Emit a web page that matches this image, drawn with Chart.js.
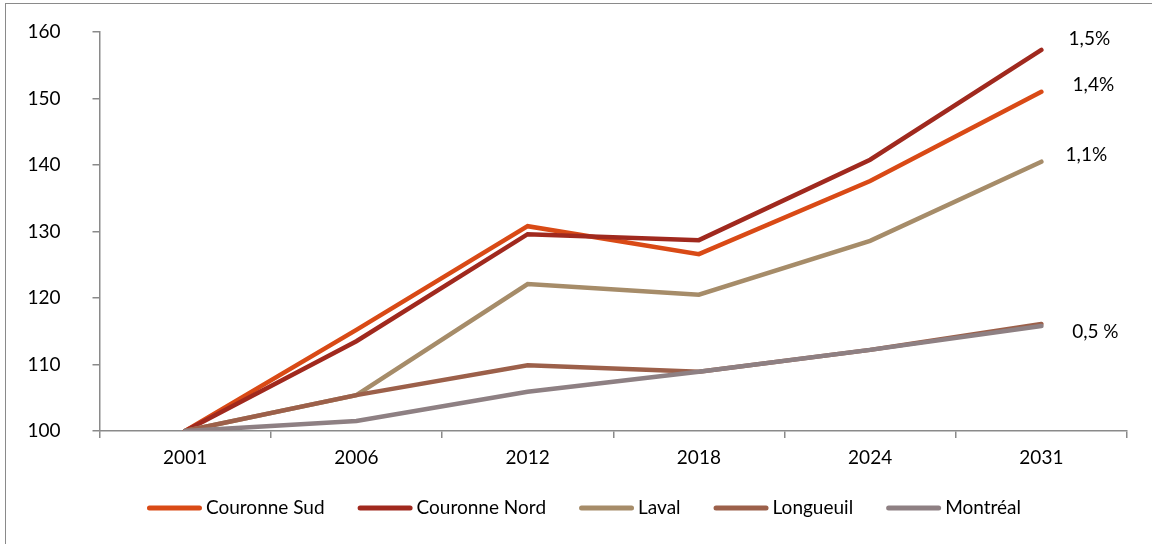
<!DOCTYPE html>
<html>
<head>
<meta charset="utf-8">
<script src="https://cdn.jsdelivr.net/npm/chart.js@4.4.1/dist/chart.umd.min.js"></script>
<style>
  html, body { margin: 0; padding: 0; background: #fff; }
  #wrap { position: relative; width: 1152px; height: 544px; overflow: hidden; }
  #frame { position: absolute; left: 5px; top: 3px; width: 1200px; height: 600px;
           border-left: 1.5px solid #8a8a8a; border-top: 1.5px solid #8a8a8a; box-sizing: border-box; }
  canvas { position: absolute; left: 0; top: 0; }
</style>
</head>
<body>
<div id="wrap">
  <div id="frame"></div>
  <canvas id="c" width="1152" height="544"></canvas>
</div>
<script>
const years = ['2001', '2006', '2012', '2018', '2024', '2031'];
const seriesNames = ['Couronne Sud', 'Couronne Nord', 'Laval', 'Longueuil', 'Montréal'];
const couronneSud  = [100, 115.2, 130.8, 126.6, 137.6, 151.0];
const couronneNord = [100, 113.5, 129.6, 128.7, 140.8, 157.3];
const laval        = [100, 105.4, 122.1, 120.5, 128.6, 140.5];
const longueuil    = [100, 105.4, 109.9, 108.9, 112.2, 116.1];
const montreal     = [100, 101.5, 105.9, 108.9, 112.2, 115.8];
const endLabels    = ['1,4%', '1,5%', '1,1%', '', '0,5 %'];
const colors = ['#D94A16', '#A0291E', '#A68C69', '#9C604A', '#8E8083'];
const yTicks = [100, 110, 120, 130, 140, 150, 160];

const values = [couronneSud, couronneNord, laval, longueuil, montreal];
const FONT = 'Lato, "Open Sans", sans-serif';
const FS = 19;

const endLabelPlugin = {
  id: 'endLabels',
  afterDatasetsDraw(chart, args, opts) {
    const ctx = chart.ctx;
    ctx.save();
    ctx.font = FS + 'px ' + FONT;
    ctx.fillStyle = '#000';
    ctx.textAlign = 'center';
    ctx.textBaseline = 'middle';
    chart.data.datasets.forEach((ds, i) => {
      const txt = endLabels[i];
      if (!txt) return;
      const meta = chart.getDatasetMeta(i);
      const pt = meta.data[meta.data.length - 1];
      const off = opts.offsets[i];
      ctx.fillText(txt, pt.x + off[0], pt.y + off[1]);
    });
    ctx.restore();
  }
};

const customLegend = {
  id: 'customLegend',
  afterDraw(chart, args, opts) {
    const ctx = chart.ctx;
    ctx.save();
    ctx.font = opts.fontSize + 'px ' + FONT;
    ctx.textBaseline = 'middle';
    const items = chart.data.datasets.map(ds => ({ label: ds.label, color: ds.borderColor, w: ctx.measureText(ds.label).width }));
    let total = 0;
    items.forEach((it, i) => { total += opts.lineLen + opts.gap + it.w + (i < items.length - 1 ? opts.spacing : 0); });
    let x = opts.centerX - total / 2;
    const y = opts.y;
    items.forEach(it => {
      ctx.strokeStyle = it.color;
      ctx.lineWidth = 5;
      ctx.lineCap = 'round';
      ctx.beginPath();
      ctx.moveTo(x + 2.5, y);
      ctx.lineTo(x + opts.lineLen - 2.5, y);
      ctx.stroke();
      x += opts.lineLen + opts.gap;
      ctx.fillStyle = '#000';
      ctx.fillText(it.label, x, y);
      x += it.w + opts.spacing;
    });
    ctx.restore();
  }
};

const datasets = seriesNames.map((name, i) => ({
  label: name,
  data: values[i],
  borderColor: colors[i],
  backgroundColor: colors[i],
  borderWidth: 4.5,
  borderCapStyle: 'round',
  borderJoinStyle: 'miter',
  pointRadius: 0,
  tension: 0,
  fill: false,
  order: seriesNames.length - i
}));

new Chart(document.getElementById('c'), {
  type: 'line',
  data: { labels: years, datasets },
  options: {
    responsive: false,
    animation: false,
    devicePixelRatio: 1,
    layout: { padding: { left: 0, right: 25, top: 32, bottom: 53 } },
    plugins: {
      legend: { display: false },
      tooltip: { enabled: false },
      endLabels: { offsets: [[52, -7], [48, -11], [45, -7], [0, 0], [54, 6]] },
      customLegend: { fontSize: FS, lineLen: 55, gap: 4, spacing: 33, centerX: 584, y: 508 }
    },
    scales: {
      x: {
        offset: true,
        grid: { offset: true, drawOnChartArea: false, drawTicks: true, tickLength: 7, color: '#8a8a8a', lineWidth: 1.5 },
        border: { color: '#8a8a8a', width: 1.5 },
        ticks: { color: '#000', font: { size: FS, family: FONT }, padding: 8, maxRotation: 0 },
        afterFit(scale) { scale.height = 60; scale.paddingLeft = 0; scale.paddingRight = 0; }
      },
      y: {
        min: 100, max: 160,
        afterBuildTicks(scale) { scale.ticks = yTicks.map(v => ({ value: v })); },
        grid: { drawOnChartArea: false, drawTicks: true, tickLength: 7, color: '#8a8a8a', lineWidth: 1.5 },
        border: { color: '#8a8a8a', width: 1.5 },
        ticks: { color: '#000', font: { size: FS, family: FONT }, padding: 32 },
        afterFit(scale) { scale.width = 99.5; scale.paddingTop = 0; scale.paddingBottom = 0; }
      }
    }
  },
  plugins: [endLabelPlugin, customLegend]
});
</script>
</body>
</html>
